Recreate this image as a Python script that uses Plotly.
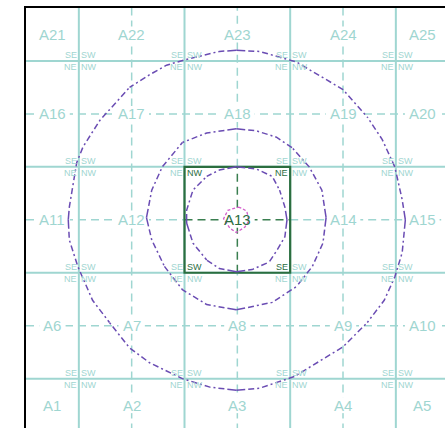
import math
import plotly.graph_objects as go

# ---------------- data ----------------
grid_lines = [1, 2, 3, 4]
center_lines = [1.5, 2.5, 3.5]
col_centers = [0.75, 1.5, 2.5, 3.5, 4.25]
row_centers = [0.75, 1.5, 2.5, 3.5, 4.25]
cell_labels = [
    ["A1", "A2", "A3", "A4", "A5"],
    ["A6", "A7", "A8", "A9", "A10"],
    ["A11", "A12", "A13", "A14", "A15"],
    ["A16", "A17", "A18", "A19", "A20"],
    ["A21", "A22", "A23", "A24", "A25"],
]
highlight_label = "A13"
highlight_box = [2, 3, 2, 3]  # x0, x1, y0, y1
corner_tags = {"tl": "SE", "tr": "SW", "bl": "NE", "br": "NW"}

outer_x = [2.49, 2.71, 3.06, 3.50, 3.73, 3.87, 3.99, 4.06, 4.09, 4.06, 3.99, 3.89, 3.73, 3.50,
           3.04, 2.71, 2.49, 2.24, 1.98, 1.67, 1.48, 1.29, 1.13, 1.07, 0.99, 0.91, 0.90, 0.91,
           0.98, 1.04, 1.20, 1.48, 1.67, 1.83, 2.00, 2.33, 2.49]
outer_y = [4.10, 4.09, 3.99, 3.73, 3.47, 3.26, 3.00, 2.69, 2.50, 2.19, 1.96, 1.74, 1.53, 1.30,
           1.02, 0.91, 0.89, 0.92, 1.00, 1.15, 1.29, 1.53, 1.74, 1.87, 2.06, 2.31, 2.50, 2.62,
           3.04, 3.19, 3.44, 3.75, 3.87, 3.96, 4.01, 4.09, 4.10]

middle_x = [2.49, 2.68, 2.87, 3.02, 3.18, 3.30, 3.34, 3.31, 3.21, 3.06, 2.83, 2.49, 2.21,
            1.98, 1.81, 1.69, 1.64, 1.69, 1.79, 1.98, 2.21, 2.49]
middle_y = [3.36, 3.34, 3.28, 3.18, 3.00, 2.78, 2.52, 2.28, 2.06, 1.87, 1.72, 1.65, 1.70,
            1.84, 2.06, 2.31, 2.52, 2.78, 3.00, 3.23, 3.32, 3.36]

inner_x = [2.49, 2.68, 2.83, 2.90, 2.95, 2.97, 2.95, 2.88, 2.80, 2.64, 2.49, 2.33, 2.21,
           2.08, 2.02, 2.02, 2.08, 2.21, 2.33, 2.49]
inner_y = [3.00, 2.98, 2.91, 2.78, 2.62, 2.50, 2.34, 2.22, 2.10, 2.03, 2.01, 2.04, 2.12,
           2.28, 2.47, 2.59, 2.78, 2.91, 2.97, 3.00]

peak_x = [2.51, 2.54, 2.59, 2.61, 2.57, 2.49, 2.43, 2.37, 2.41, 2.51]
peak_y = [2.62, 2.61, 2.58, 2.49, 2.43, 2.38, 2.42, 2.51, 2.59, 2.62]

# ---------------- style ----------------
TEAL = "#9fd6d1"
DGREEN = "#2b6e3f"
DGREEN2 = "#3a7f50"
PURPLE = "#6a4cb3"
PINK = "#d35fcb"
FONT = "Liberation Sans, Arial, sans-serif"

W, H = 445, 428
ML, MT = 26, 8
PX = 105.67
PY = 105.9
x_range = [0.5, 0.5 + (W - ML) / PX]
y_range = [4.5 - (H - MT) / PY, 4.5]

fig = go.Figure()
shapes = []

# solid grid lines
for g in grid_lines:
    shapes.append(dict(type="line", xref="x", yref="y", x0=g, x1=g, y0=0.5, y1=4.5,
                       line=dict(color=TEAL, width=2), layer="below"))
    shapes.append(dict(type="line", xref="x", yref="y", x0=0.5, x1=4.5, y0=g, y1=g,
                       line=dict(color=TEAL, width=2), layer="below"))

# dashed centre lines (split around highlighted cell)
hx0, hx1, hy0, hy1 = highlight_box
DASH = "8px,5px"
for c in center_lines:
    if hx0 < c < hx1:
        segs = [(0.5, hy0, TEAL), (hy0, hy1, DGREEN2), (hy1, 4.5, TEAL)]
    else:
        segs = [(0.5, 4.5, TEAL)]
    for a, b, col in segs:
        shapes.append(dict(type="line", xref="x", yref="y", x0=c, x1=c, y0=a, y1=b,
                           line=dict(color=col, width=1.5, dash=DASH), layer="below"))
    if hy0 < c < hy1:
        segs = [(0.5, hx0, TEAL), (hx0, hx1, DGREEN2), (hx1, 4.5, TEAL)]
    else:
        segs = [(0.5, 4.5, TEAL)]
    for a, b, col in segs:
        shapes.append(dict(type="line", xref="x", yref="y", x0=a, x1=b, y0=c, y1=c,
                           line=dict(color=col, width=1.5, dash=DASH), layer="below"))

# highlighted cell box
shapes.append(dict(type="rect", xref="x", yref="y", x0=hx0, x1=hx1, y0=hy0, y1=hy1,
                   line=dict(color=DGREEN, width=2.2), layer="below"))

annotations = []
LABEL_SIZE = 15
for r, yc in enumerate(row_centers):
    for c, xc in enumerate(col_centers):
        lab = cell_labels[r][c]
        tw = LABEL_SIZE * (0.667 + 0.556 * (len(lab) - 1))
        hw = (tw / 2 + 4) / PX
        hh = 8 / PY
        shapes.append(dict(type="rect", xref="x", yref="y", x0=xc - hw, x1=xc + hw,
                           y0=yc - hh, y1=yc + hh, fillcolor="white",
                           line=dict(width=0), layer="below"))
        annotations.append(dict(x=xc, y=yc, xref="x", yref="y", text=lab, showarrow=False,
                                font=dict(family=FONT, size=LABEL_SIZE,
                                          color=DGREEN if lab == highlight_label else TEAL),
                                xanchor="center", yanchor="middle", borderpad=0))

def in_box(px_, py_):
    return hx0 <= px_ <= hx1 and hy0 <= py_ <= hy1

for gx in grid_lines:
    for gy in grid_lines:
        specs = [
            ("tl", "right", "bottom", gx - 0.25, gy + 0.25),
            ("tr", "left", "bottom", gx + 0.25, gy + 0.25),
            ("bl", "right", "top", gx - 0.25, gy - 0.25),
            ("br", "left", "top", gx + 0.25, gy - 0.25),
        ]
        for key, xa, ya, cx, cy in specs:
            col = DGREEN if in_box(cx, cy) else TEAL
            annotations.append(dict(x=gx, y=gy, xref="x", yref="y", text=corner_tags[key],
                                    showarrow=False, xanchor=xa, yanchor=ya,
                                    font=dict(family=FONT, size=9, color=col),
                                    borderpad=0, xshift=(-1 if xa == "right" else 1)))

def split_arcs(xs, ys):
    pts = list(zip(xs, ys))
    n = len(pts) - 1
    idx = sorted({
        max(range(n), key=lambda i: pts[i][1]),
        max(range(n), key=lambda i: pts[i][0]),
        min(range(n), key=lambda i: pts[i][1]),
        min(range(n), key=lambda i: pts[i][0]),
    })
    arcs = []
    for k in range(len(idx)):
        a = idx[k]
        b = idx[(k + 1) % len(idx)]
        seg = [pts[(a + j) % n] for j in range(((b - a) % n) + 1)]
        m = len(seg) // 2
        arcs.append(seg[:m + 1])
        arcs.append(seg[m:][::-1])
    return arcs

def arc_len(seg):
    return sum(math.hypot((seg[i + 1][0] - seg[i][0]) * PX, (seg[i + 1][1] - seg[i][1]) * PY)
               for i in range(len(seg) - 1))

def dash_for(length):
    parts = ["9px", "3px"]
    total = 12
    while total < length + 20:
        parts += ["6px", "3px", "2px", "3px"]
        total += 14
    return ",".join(parts)

for xs, ys in [(outer_x, outer_y), (middle_x, middle_y), (inner_x, inner_y)]:
    for seg in split_arcs(xs, ys):
        fig.add_trace(go.Scatter(x=[p[0] for p in seg], y=[p[1] for p in seg], mode="lines",
                                 line=dict(color=PURPLE, width=1.5, dash=dash_for(arc_len(seg))),
                                 hoverinfo="skip", showlegend=False))

fig.add_trace(go.Scatter(x=peak_x, y=peak_y, mode="lines",
                         line=dict(color=PINK, width=1.3, dash="3px,2px"),
                         hoverinfo="skip", showlegend=False))

fig.update_layout(
    width=W, height=H,
    margin=dict(l=ML, r=0, t=MT, b=0, pad=0),
    plot_bgcolor="white", paper_bgcolor="white",
    shapes=shapes, annotations=annotations,
    showlegend=False,
    xaxis=dict(range=x_range, showgrid=False, zeroline=False, showticklabels=False,
               ticks="", showline=True, linecolor="black", linewidth=2, side="top",
               fixedrange=True),
    yaxis=dict(range=y_range, showgrid=False, zeroline=False, showticklabels=False,
               ticks="", showline=True, linecolor="black", linewidth=2, fixedrange=True),
)

fig.write_html("out.html", config={"displayModeBar": False},
               post_script="document.body.style.margin='0';")
